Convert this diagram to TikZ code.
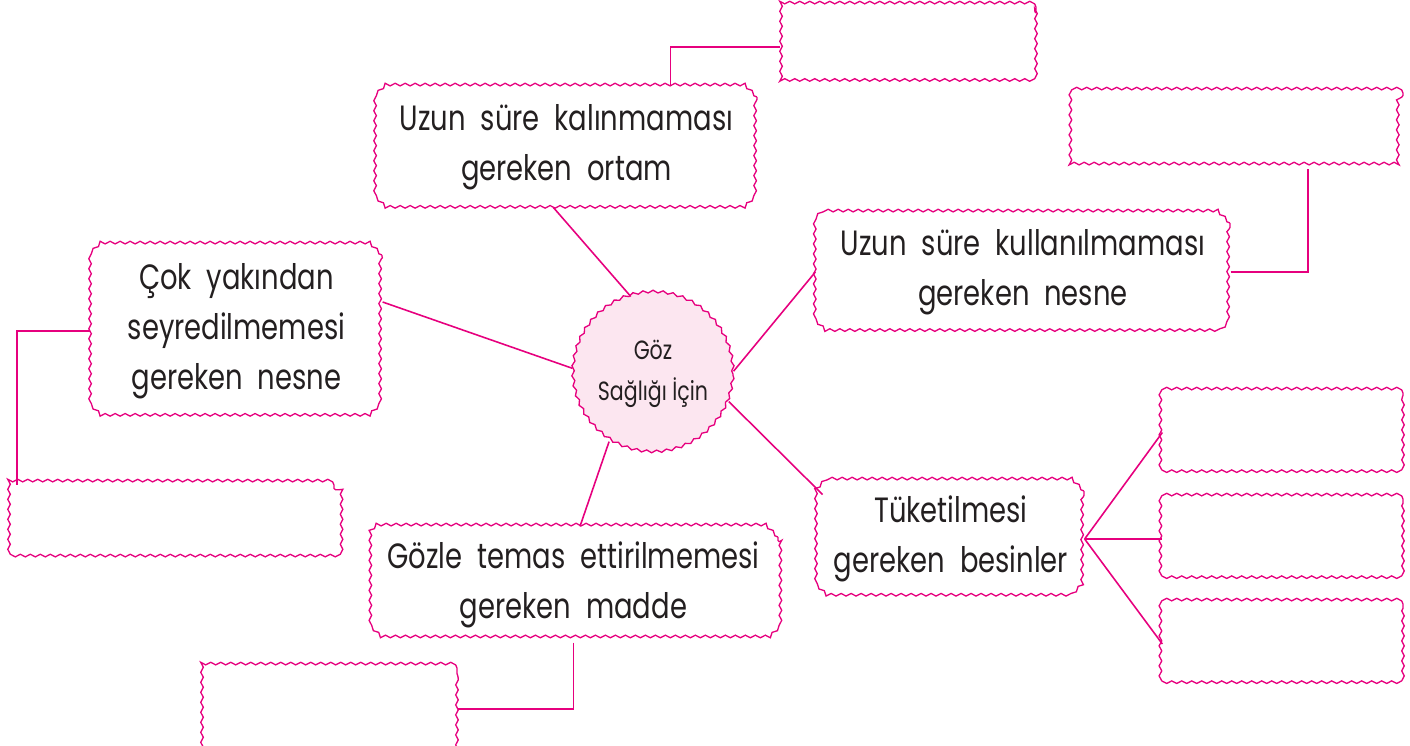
\documentclass[tikz,border=0pt]{standalone}
\usepackage{fontspec}
\setmainfont{Poppins}[FakeStretch=0.78]
\usetikzlibrary{calc,decorations.pathmorphing,shapes.misc}
\definecolor{gozpembe}{HTML}{E6007E}
\definecolor{gozzemin}{HTML}{FCE6F0}
\definecolor{yazi}{HTML}{231F20}
\newcommand\kutuyazi{\fontsize{20}{28.5}\selectfont\spaceskip=8.5pt\relax}
\tikzset{
  dalga/.style={draw=gozpembe, line width=0.75pt, decorate,
    decoration={snake, segment length=0.2cm, amplitude=0.026cm}},
  kutu/.style={dalga, chamfered rectangle, chamfered rectangle xsep=0.1cm,
    chamfered rectangle ysep=0.1cm, align=center, inner sep=0pt, text=yazi,
    font=\kutuyazi},
  bag/.style={draw=gozpembe, line width=0.9pt}
}

\begin{document}
\begin{tikzpicture}[x=0.02cm, y=0.02cm]
  \useasboundingbox (0,0) rectangle (1410,745);
  % merkez
  \node [dalga, circle, fill=gozzemin, minimum size=3.2cm, align=center,
         text=yazi, font=\fontsize{15}{23}\selectfont] (c) at (653,371)
         {Göz\\Sağlığı İçin};
  % yazılı kutular
  \node [kutu, minimum width=7.62cm, minimum height=2.4cm] (b1) at (566.5,598)
        {Uzun süre kalınmaması\\gereken ortam};
  \node [kutu, minimum width=8.28cm, minimum height=2.36cm] (b2) at (1023,473)
        {Uzun süre kullanılmaması\\gereken nesne};
  \node [kutu, minimum width=5.82cm, minimum height=3.44cm] (b3) at (236.5,414)
        {Çok yakından\\seyredilmemesi\\gereken nesne};
  \node [kutu, minimum width=8.18cm, minimum height=2.3cm] (b4) at (573.5,160.5)
        {Gözle temas ettirilmemesi\\gereken madde};
  \node [kutu, minimum width=5.32cm, minimum height=2.32cm] (b5) at (951,206)
        {Tüketilmesi\\gereken besinler};
  % boş kutular
  \node [kutu, minimum width=5.1cm, minimum height=1.6cm] (e1) at (908.5,698) {};
  \node [kutu, minimum width=6.58cm, minimum height=1.5cm] (e2) at (1238.5,614.5) {};
  \node [kutu, minimum width=6.54cm, minimum height=1.5cm] (e3) at (170.5,222.5) {};
  \node [kutu, minimum width=5.12cm, minimum height=1.64cm] (e4) at (329,36) {};
  \node [kutu, minimum width=4.8cm, minimum height=1.58cm] (e5a) at (1283,312.5) {};
  \node [kutu, minimum width=4.8cm, minimum height=1.6cm] (e5b) at (1283,206) {};
  \node [kutu, minimum width=4.8cm, minimum height=1.6cm] (e5c) at (1283,101) {};
  % merkezden kutulara
  \draw [bag] (c.106) -- ([xshift=-0.26cm]b1.south);
  \draw [bag] (c.176) -- ([yshift=0.58cm]b3.east);
  \draw [bag] (c.2) -- (b2.west);
  \draw [bag] (c.-20) -- ([yshift=-0.18cm]b5.north west);
  \draw [bag] (c.-123) -- ([xshift=0.13cm]b4.north);
  % kutulardan boş kutulara
  \draw [bag] ([xshift=2.08cm]b1.north) |- (e1.west);
  \draw [bag] (b2.east) -| ([xshift=1.39cm]e2.south);
  \draw [bag] (b3.west) -| ([xshift=0.2cm]e3.north west);
  \draw [bag] (b4.south) |- (e4.east);
  \foreach \e in {e5a,e5b,e5c}
    \draw [bag] (b5.east) -- (\e.west);
\end{tikzpicture}
\end{document}
